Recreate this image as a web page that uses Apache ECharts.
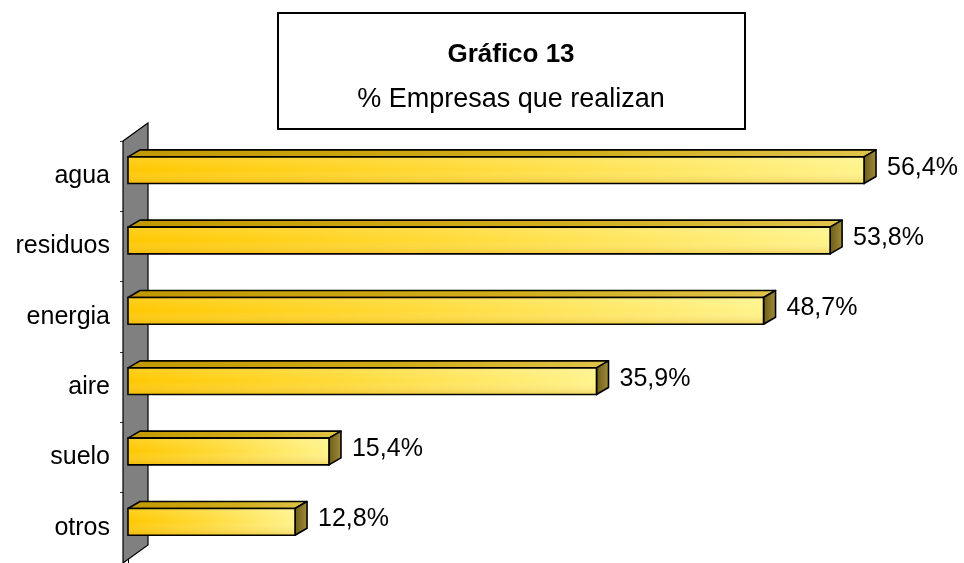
<!DOCTYPE html>
<html>
<head>
<meta charset="utf-8">
<script src="https://cdn.jsdelivr.net/npm/echarts@6/dist/echarts.min.js"></script>
<style>html,body{margin:0;padding:0;background:#fff}#c{width:964px;height:563px}</style>
</head>
<body>
<div id="c"></div>
<script>
const categories = ['agua', 'residuos', 'energia', 'aire', 'suelo', 'otros'];
const values = [56.4, 53.8, 48.7, 35.9, 15.4, 12.8];
const valueLabels = ['56,4%', '53,8%', '48,7%', '35,9%', '15,4%', '12,8%'];
const titleText = 'Gráfico 13';
const subtitleText = '% Empresas que realizan';

const FONT = '"Liberation Sans", Arial, sans-serif';
const DX = 12, DY = 7;

const chart = echarts.init(document.getElementById('c'), null, {renderer: 'canvas'});

function renderBar(params, api) {
  const idx = api.value(1);
  const val = api.value(0);
  const p0 = api.coord([0, idx]);
  const p1 = api.coord([val, idx]);
  const band = api.size([0, 1])[1];
  const bandStart = p0[1] - band / 2;
  const yt = bandStart + band * 0.225;
  const yb = bandStart + band * 0.605;
  const x0 = p0[0], x1 = p1[0];
  const h = yb - yt;
  return {
    type: 'group',
    children: [
      {
        type: 'polygon',
        shape: {points: [[x0, yt], [x0 + DX, yt - DY], [x1 + DX, yt - DY], [x1, yt]]},
        style: {
          fill: new echarts.graphic.LinearGradient(0, 0, 1, 0, [
            {offset: 0, color: '#C29800'}, {offset: 0.6, color: '#D2AE1C'}, {offset: 1, color: '#E0C44A'}
          ]),
          stroke: '#000', lineWidth: 1.6, lineJoin: 'round'
        }
      },
      {
        type: 'polygon',
        shape: {points: [[x1, yt], [x1 + DX, yt - DY], [x1 + DX, yb - DY], [x1, yb]]},
        style: {
          fill: new echarts.graphic.LinearGradient(0, 0, 1, 0, [
            {offset: 0, color: '#6A5A16'}, {offset: 1, color: '#A28E3C'}
          ]),
          stroke: '#000', lineWidth: 1.6, lineJoin: 'round'
        }
      },
      {
        type: 'rect',
        shape: {x: x0, y: yt, width: x1 - x0, height: h},
        style: {
          fill: new echarts.graphic.LinearGradient(0, 0, 1, 0, [
            {offset: 0, color: '#FFC800'}, {offset: 0.45, color: '#FFDA36'}, {offset: 1, color: '#FFF38A'}
          ]),
          stroke: null
        }
      },
      {
        type: 'rect',
        shape: {x: x0, y: yt, width: x1 - x0, height: h},
        style: {
          fill: new echarts.graphic.LinearGradient(0, 0, 0, 1, [
            {offset: 0, color: 'rgba(255,255,255,0.15)'}, {offset: 0.5, color: 'rgba(255,255,255,0)'}, {offset: 1, color: 'rgba(210,150,0,0.35)'}
          ]),
          stroke: '#000', lineWidth: 1.6
        }
      },
      {
        type: 'text',
        style: {
          text: valueLabels[params.dataIndex],
          x: x1 + DX + 11, y: (yt + yb) / 2 - DY / 2 + 1,
          align: 'left', verticalAlign: 'middle',
          font: '25px ' + FONT, fill: '#000'
        }
      }
    ]
  };
}

function renderWall(params, api) {
  const cs = params.coordSys;
  const x = cs.x - 5;
  const wdx = 25, wdy = 18;
  return {
    type: 'polygon',
    shape: {points: [[x, cs.y], [x + wdx, cs.y - wdy], [x + wdx, cs.y + cs.height - wdy], [x, cs.y + cs.height]]},
    style: {fill: '#808080', stroke: '#000', lineWidth: 1.2}
  };
}

chart.setOption({
  animation: false,
  backgroundColor: '#fff',
  grid: {left: 128, top: 141, width: 783, height: 426, containLabel: false},
  xAxis: {type: 'value', min: 0, max: 60, show: false},
  yAxis: {
    type: 'category', data: categories, inverse: true, offset: 5,
    axisLine: {show: true, lineStyle: {color: '#000', width: 1}},
    axisTick: {show: true, length: 8, lineStyle: {color: '#333', width: 1}},
    axisLabel: {margin: 13, fontSize: 25, fontFamily: FONT, color: '#000', padding: [6, 0, 0, 0]},
    splitLine: {show: false}
  },
  graphic: [
    {
      type: 'group', left: 277, top: 12,
      children: [
        {type: 'rect', shape: {x: 0, y: 0, width: 467, height: 116}, style: {fill: '#fff', stroke: '#000', lineWidth: 2}},
        {type: 'text', style: {text: titleText, x: 233, y: 42, align: 'center', verticalAlign: 'middle', font: 'bold 26px ' + FONT, fill: '#000'}},
        {type: 'text', style: {text: subtitleText, x: 233, y: 87, align: 'center', verticalAlign: 'middle', font: '27px ' + FONT, fill: '#000'}}
      ]
    }
  ],
  series: [
    {type: 'custom', name: 'wall', renderItem: renderWall, data: [[0, 0]], z: 1, silent: true},
    {
      type: 'custom', name: 'bars', renderItem: renderBar, z: 3,
      encode: {x: 0, y: 1},
      data: values.map((v, i) => [v, i])
    }
  ]
});
</script>
</body>
</html>
